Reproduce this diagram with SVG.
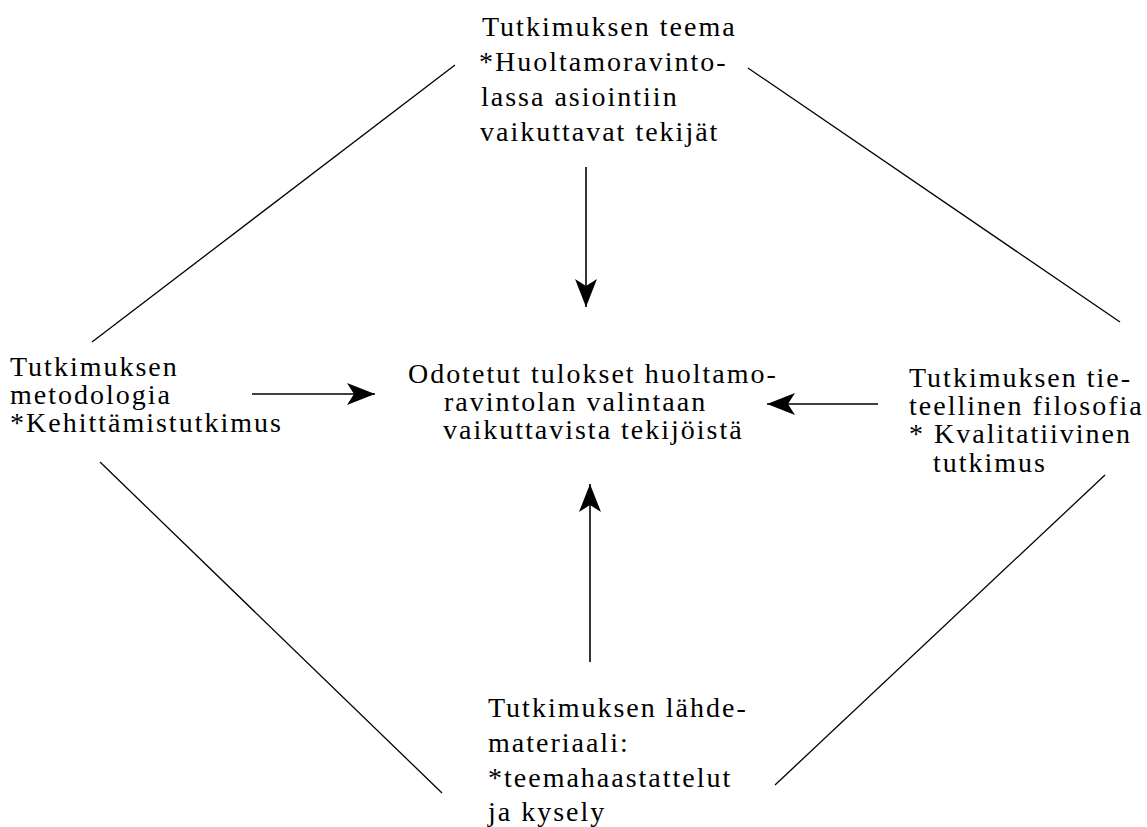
<svg xmlns="http://www.w3.org/2000/svg" width="1147" height="827" viewBox="0 0 1147 827">
<style>
.t{font-family:"Liberation Serif","Times New Roman",serif;font-size:28px;letter-spacing:2px;fill:#000}
.ln{stroke:#000;stroke-width:1.3;fill:none}
.ar{stroke:#000;stroke-width:1.6;fill:none;marker-end:url(#ah)}
</style>
<defs>
<marker id="ah" viewBox="-29 -12 30 24" refX="0" refY="0" markerWidth="30" markerHeight="24" markerUnits="userSpaceOnUse" orient="auto">
<path d="M0,0 L-28,-11 L-21,0 L-28,11 Z" fill="#000"/>
</marker>
</defs>
<rect width="1147" height="827" fill="#fff"/>
<g id="connectors">
<line class="ln" x1="92" y1="342" x2="455" y2="65"/>
<line class="ln" x1="748" y1="68" x2="1120" y2="322"/>
<line class="ln" x1="100" y1="462" x2="442" y2="793"/>
<line class="ln" x1="775" y1="785" x2="1105" y2="475"/>
<line class="ar" x1="586" y1="167" x2="586" y2="307"/>
<line class="ar" x1="252" y1="394" x2="375" y2="394"/>
<line class="ar" x1="878" y1="404" x2="767" y2="404"/>
<line class="ar" x1="590" y1="662" x2="590" y2="484"/>
</g>
<g id="node-teema">
<text class="t" x="482" y="36">Tutkimuksen teema</text>
<text class="t" x="479" y="71">*Huoltamoravinto-</text>
<text class="t" x="481" y="106">lassa asiointiin</text>
<text class="t" x="480" y="141">vaikuttavat tekijät</text>
</g>
<g id="node-metodologia">
<text class="t" x="10" y="376">Tutkimuksen</text>
<text class="t" x="10" y="404">metodologia</text>
<text class="t" x="10" y="432">*Kehittämistutkimus</text>
</g>
<g id="node-tulokset">
<text class="t" x="408" y="383">Odotetut tulokset huoltamo-</text>
<text class="t" x="444" y="411">ravintolan valintaan</text>
<text class="t" x="443" y="439">vaikuttavista tekijöistä</text>
</g>
<g id="node-filosofia">
<text class="t" x="909" y="387">Tutkimuksen tie-</text>
<text class="t" x="909" y="415">teellinen filosofia</text>
<text class="t" x="909" y="443">* Kvalitatiivinen</text>
<text class="t" x="933" y="472">tutkimus</text>
</g>
<g id="node-lahdemateriaali">
<text class="t" x="488" y="717">Tutkimuksen lähde-</text>
<text class="t" x="488" y="752">materiaali:</text>
<text class="t" x="488" y="787">*teemahaastattelut</text>
<text class="t" x="488" y="821">ja kysely</text>
</g>
</svg>
